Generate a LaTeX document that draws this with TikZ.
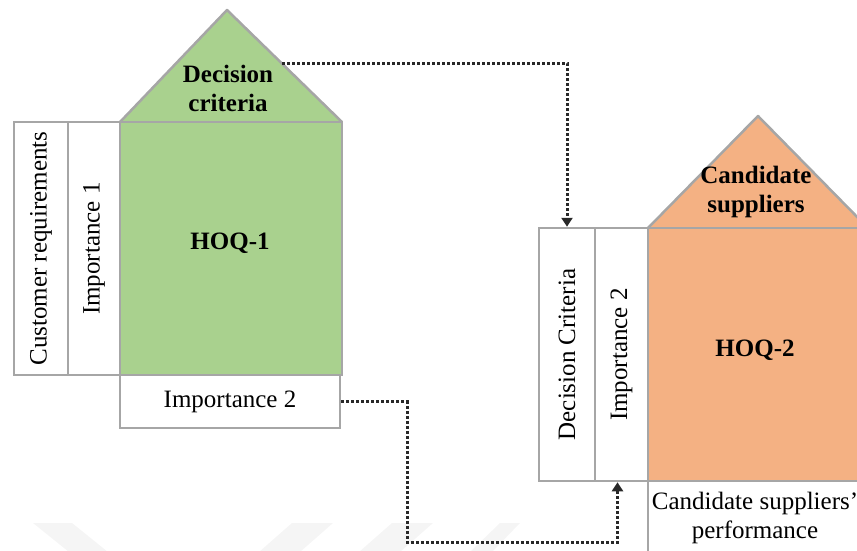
\documentclass[tikz,border=0pt]{standalone}
\usepackage{fontspec}
\setmainfont{Liberation Serif}
\usetikzlibrary{arrows.meta}

\definecolor{framegray}{RGB}{166,166,166}
\definecolor{hoqgreen}{RGB}{169,209,142}
\definecolor{hoqorange}{RGB}{244,177,131}
\definecolor{linkgray}{RGB}{40,40,40}
\definecolor{markgray}{RGB}{245,245,245}

\tikzset{
  cell/.style={draw=framegray, line width=2.5pt, fill=white, inner sep=0pt,
    align=center, font=\fontsize{25}{29}\selectfont},
  vcell/.style={cell, minimum height=253pt},
  vtext/.style={rotate=90, font=\fontsize{25}{29}\selectfont},
  roof/.style={draw=framegray, line width=2.5pt, line join=round},
  bold25/.style={font=\fontsize{25}{29}\selectfont\bfseries, align=center},
  link/.style={draw=linkgray, line width=3pt, dash pattern=on 3pt off 2pt,
    -{Triangle[width=11pt,length=9pt,sep=0pt]}},
}

\begin{document}
\begin{tikzpicture}[x=1pt,y=-1pt]
  \useasboundingbox (0,0) rectangle (857,550);

  % faint background marks along the bottom edge
  \fill[markgray] (33,523) -- (72,523) -- (108,552) -- (69,552) -- cycle;
  \fill[markgray] (292,523) -- (333,523) -- (300,552) -- (259,552) -- cycle;
  \fill[markgray] (392,523) -- (433,523) -- (400,552) -- (359,552) -- cycle;
  \fill[markgray] (500,523) -- (520,523) -- (492,552) -- (470,552) -- cycle;

  % ---------- first house ----------
  \fill[hoqgreen] (120,122) -- (227,10) -- (342,122) -- cycle;
  \draw[roof] (120,122) -- (227,10) -- (342,122);
  \node[bold25] (dcrit) at (228,88) {Decision\\criteria};

  \node[vcell, minimum width=54pt] (cr) at (41,248.5) {};
  \node[vtext] at (cr.center) {Customer requirements};
  \node[vcell, minimum width=52pt] (imp1) at (94,248.5) {};
  \node[vtext] at (imp1.center) {Importance 1};
  \node[vcell, minimum width=222pt, fill=hoqgreen] (hoq1) at (231,248.5) {};
  \node[bold25] at (230,243) {HOQ-1};
  \node[cell, minimum width=220pt, minimum height=53pt] (imp2b) at (230,401.5) {Importance 2};

  % ---------- second house ----------
  \fill[hoqorange] (648,228) -- (758,116) -- (868,228) -- cycle;
  \draw[roof] (648,228) -- (758,116) -- (868,228);
  \node[bold25] (csup) at (756,192) {Candidate\\suppliers};

  \node[vcell, minimum width=56pt] (dc) at (567,354.5) {};
  \node[vtext] at (dc.center) {Decision Criteria};
  \node[vcell, minimum width=53pt] (imp2c) at (621.5,354.5) {};
  \node[vtext] at (imp2c.center) {Importance 2};
  \node[vcell, minimum width=220pt, fill=hoqorange] (hoq2) at (758,354.5) {};
  \node[bold25] at (755,350) {HOQ-2};
  \node[cell, minimum width=220pt, minimum height=80pt] (perf) at (758,521) {};
  \node[cell, draw=none, fill=none] at (755,517.5) {Candidate suppliers'\\performance};

  % ---------- links ----------
  \coordinate (roofout) at (282,63);
  \coordinate (lowbend) at (407,542);
  \draw[link] (roofout) -| (dc.north);
  \draw[link] (imp2b.east) -| (lowbend) -| ([xshift=-4pt]imp2c.south);
\end{tikzpicture}
\end{document}
